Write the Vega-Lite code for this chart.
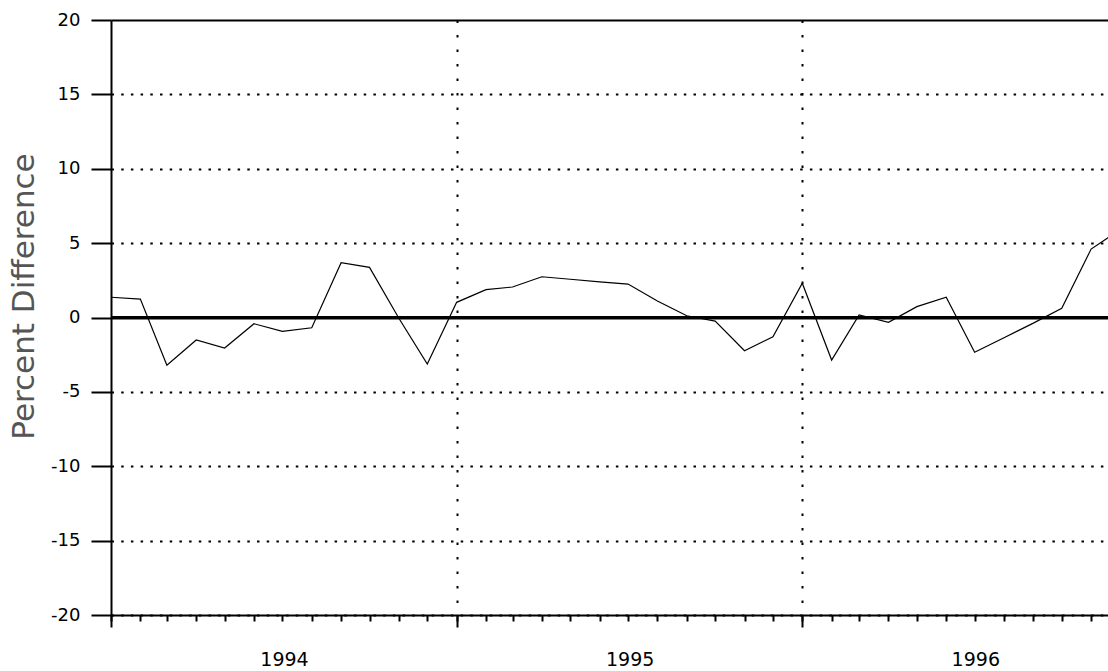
{
  "$schema": "https://vega.github.io/schema/vega-lite/v6.json",
  "autosize": "none",
  "width": 997,
  "height": 595,
  "padding": {"left": 111, "top": 20, "right": 0, "bottom": 56},
  "background": "white",
  "view": {"stroke": null},
  "data": {
    "values": [
      {"date": "1994-01-01", "pct": 1.36},
      {"date": "1994-02-01", "pct": 1.24},
      {"date": "1994-03-01", "pct": -3.21},
      {"date": "1994-04-01", "pct": -1.51},
      {"date": "1994-05-01", "pct": -2.05},
      {"date": "1994-06-01", "pct": -0.42},
      {"date": "1994-07-01", "pct": -0.93},
      {"date": "1994-08-01", "pct": -0.69},
      {"date": "1994-09-01", "pct": 3.68},
      {"date": "1994-10-01", "pct": 3.37},
      {"date": "1994-11-01", "pct": -0.05},
      {"date": "1994-12-01", "pct": -3.13},
      {"date": "1995-01-01", "pct": 1.02},
      {"date": "1995-02-01", "pct": 1.87},
      {"date": "1995-03-01", "pct": 2.05},
      {"date": "1995-04-01", "pct": 2.74},
      {"date": "1995-05-01", "pct": 2.57},
      {"date": "1995-06-01", "pct": 2.4},
      {"date": "1995-07-01", "pct": 2.25},
      {"date": "1995-08-01", "pct": 1.11},
      {"date": "1995-09-01", "pct": 0.12},
      {"date": "1995-10-01", "pct": -0.24},
      {"date": "1995-11-01", "pct": -2.23},
      {"date": "1995-12-01", "pct": -1.29},
      {"date": "1996-01-01", "pct": 2.3},
      {"date": "1996-02-01", "pct": -2.86},
      {"date": "1996-03-01", "pct": 0.17},
      {"date": "1996-04-01", "pct": -0.32},
      {"date": "1996-05-01", "pct": 0.73},
      {"date": "1996-06-01", "pct": 1.36},
      {"date": "1996-07-01", "pct": -2.34},
      {"date": "1996-08-01", "pct": -1.36},
      {"date": "1996-09-01", "pct": -0.38},
      {"date": "1996-10-01", "pct": 0.62},
      {"date": "1996-11-01", "pct": 4.6},
      {"date": "1996-12-01", "pct": 5.87}
    ]
  },
  "resolve": {"axis": {"x": "independent"}},
  "layer": [
    {
      "mark": {"type": "line", "color": "black", "strokeWidth": 1.2, "clip": true},
      "encoding": {
        "x": {
          "field": "date",
          "type": "temporal",
          "scale": {
            "type": "utc",
            "domain": [
              {"year": 1994, "month": 1, "date": 1, "utc": true},
              {"year": 1996, "month": 11, "date": 18, "hours": 20, "utc": true}
            ],
            "nice": false
          },
          "axis": {
            "orient": "bottom",
            "values": [
              {"year": 1994, "month": 1, "date": 1, "utc": true},
              {"year": 1994, "month": 2, "date": 1, "utc": true},
              {"year": 1994, "month": 3, "date": 1, "utc": true},
              {"year": 1994, "month": 4, "date": 1, "utc": true},
              {"year": 1994, "month": 5, "date": 1, "utc": true},
              {"year": 1994, "month": 6, "date": 1, "utc": true},
              {"year": 1994, "month": 7, "date": 1, "utc": true},
              {"year": 1994, "month": 8, "date": 1, "utc": true},
              {"year": 1994, "month": 9, "date": 1, "utc": true},
              {"year": 1994, "month": 10, "date": 1, "utc": true},
              {"year": 1994, "month": 11, "date": 1, "utc": true},
              {"year": 1994, "month": 12, "date": 1, "utc": true},
              {"year": 1995, "month": 1, "date": 1, "utc": true},
              {"year": 1995, "month": 2, "date": 1, "utc": true},
              {"year": 1995, "month": 3, "date": 1, "utc": true},
              {"year": 1995, "month": 4, "date": 1, "utc": true},
              {"year": 1995, "month": 5, "date": 1, "utc": true},
              {"year": 1995, "month": 6, "date": 1, "utc": true},
              {"year": 1995, "month": 7, "date": 1, "utc": true},
              {"year": 1995, "month": 8, "date": 1, "utc": true},
              {"year": 1995, "month": 9, "date": 1, "utc": true},
              {"year": 1995, "month": 10, "date": 1, "utc": true},
              {"year": 1995, "month": 11, "date": 1, "utc": true},
              {"year": 1995, "month": 12, "date": 1, "utc": true},
              {"year": 1996, "month": 1, "date": 1, "utc": true},
              {"year": 1996, "month": 2, "date": 1, "utc": true},
              {"year": 1996, "month": 3, "date": 1, "utc": true},
              {"year": 1996, "month": 4, "date": 1, "utc": true},
              {"year": 1996, "month": 5, "date": 1, "utc": true},
              {"year": 1996, "month": 6, "date": 1, "utc": true},
              {"year": 1996, "month": 7, "date": 1, "utc": true},
              {"year": 1996, "month": 8, "date": 1, "utc": true},
              {"year": 1996, "month": 9, "date": 1, "utc": true},
              {"year": 1996, "month": 10, "date": 1, "utc": true},
              {"year": 1996, "month": 11, "date": 1, "utc": true}
            ],
            "title": null,
            "grid": false,
            "labels": false,
            "domain": true,
            "domainColor": "black",
            "domainWidth": 2,
            "ticks": true,
            "tickSize": 6,
            "tickWidth": 2,
            "tickColor": "black"
          }
        },
        "y": {
          "field": "pct",
          "type": "quantitative",
          "scale": {"domain": [-20, 20], "nice": false, "zero": false},
          "axis": {
            "orient": "left",
            "values": [-20, -15, -10, -5, 0, 5, 10, 15, 20],
            "title": "Percent Difference",
            "titleFont": "DejaVu Sans",
            "titleFontSize": 31,
            "titleFontWeight": "normal",
            "titleColor": "#555555",
            "titleAngle": -90,
            "titleAlign": "center",
            "titleBaseline": "middle",
            "titleX": -87,
            "titleY": 276,
            "domain": true,
            "domainColor": "black",
            "domainWidth": 2,
            "ticks": true,
            "tickSize": 20,
            "tickWidth": 2,
            "tickColor": "black",
            "grid": true,
            "gridColor": "black",
            "gridOpacity": 1,
            "gridWidth": 2,
            "gridDash": {"condition": {"test": "datum.value == 20 || datum.value == 0", "value": []}, "value": [2.5, 7.2]},
            "labelExpr": "'' + datum.value",
            "labelFont": "DejaVu Sans",
            "labelFontSize": 18,
            "labelFontWeight": "normal",
            "labelColor": "black",
            "labelPadding": 11,
            "labelBaseline": "middle"
          }
        }
      }
    },
    {
      "mark": {"type": "rule", "color": "black", "strokeWidth": 2},
      "encoding": {
        "x": {
          "datum": {"year": 1994, "month": 1, "date": 1, "utc": true},
          "type": "temporal",
          "axis": {
            "orient": "bottom",
            "values": [
              {"year": 1994, "month": 1, "date": 1, "utc": true},
              {"year": 1995, "month": 1, "date": 1, "utc": true},
              {"year": 1996, "month": 1, "date": 1, "utc": true}
            ],
            "title": null,
            "domain": false,
            "ticks": true,
            "tickSize": 12,
            "tickWidth": 2,
            "tickColor": "black",
            "grid": true,
            "gridColor": {"condition": {"test": "utcyear(datum.value) == 1994", "value": "transparent"}, "value": "black"},
            "gridWidth": 2,
            "gridDash": [2.5, 12],
            "gridOpacity": 1,
            "labelExpr": "utcFormat(datum.value, '%Y')",
            "labelOffset": 173,
            "labelPadding": 23,
            "labelFlush": false,
            "labelOverlap": false,
            "labelBound": false,
            "labelFont": "DejaVu Sans",
            "labelFontSize": 19,
            "labelColor": "black",
            "labelAlign": "center",
            "labelBaseline": "top"
          }
        },
        "x2": {"datum": {"year": 1996, "month": 11, "date": 18, "hours": 20, "utc": true}},
        "y": {"datum": 0, "type": "quantitative"}
      }
    }
  ]
}
